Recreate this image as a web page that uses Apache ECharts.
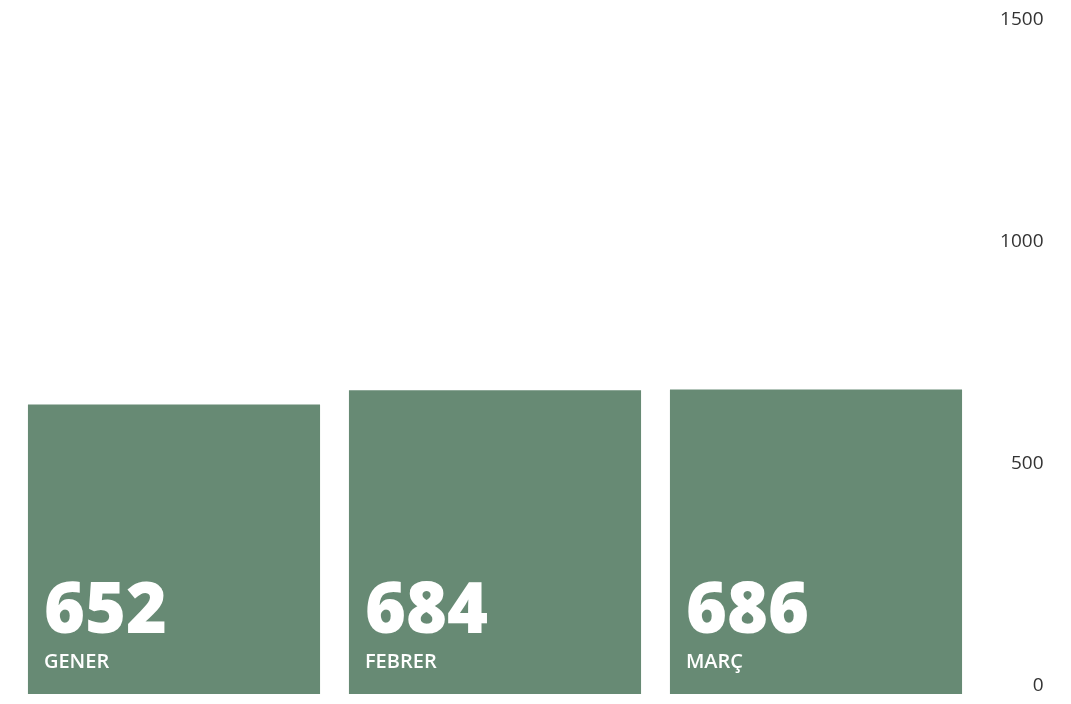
<!DOCTYPE html>
<html><head><meta charset="utf-8">
<script src="https://cdn.jsdelivr.net/npm/echarts@6/dist/echarts.min.js"></script>
<style>html,body{margin:0;padding:0;background:#fff}#c{width:1071px;height:704px}</style>
</head><body><div id="c"></div>
<script>
const categories = ['GENER', 'FEBRER', 'MARÇ'];
const values = [652, 684, 686];
const yTicks = [0, 500, 1000, 1500];

const chart = echarts.init(document.getElementById('c'));
chart.setOption({
  animation: false,
  textStyle: { fontFamily: 'Open Sans' },
  grid: { left: 13.5, right: 94.5, top: 28, bottom: 10, containLabel: false },
  xAxis: {
    type: 'category', data: categories,
    axisLine: { show: false }, axisTick: { show: false }, axisLabel: { show: false }
  },
  yAxis: {
    type: 'value', position: 'right', min: yTicks[0], max: yTicks[yTicks.length - 1], interval: 500,
    splitLine: { show: false }, axisLine: { show: false }, axisTick: { show: false },
    axisLabel: { align: 'right', margin: 67, verticalAlign: 'bottom', lineHeight: 17,
      formatter: v => String(v),
      color: '#333', fontSize: 19, fontFamily: 'Open Sans' }
  },
  series: [{
    type: 'bar', data: values, barCategoryGap: '9%',
    itemStyle: { color: '#678a74' },
    label: {
      show: true, position: 'insideBottomLeft', distance: 16, offset: [0, -3],
      formatter: p => '{v|' + p.value + '}\n{n|' + p.name + '}',
      rich: {
        v: { color: '#fff', fontSize: 70, fontWeight: 800, fontFamily: 'Open Sans', lineHeight: 72 },
        n: { color: '#fff', fontSize: 20, fontWeight: 600, fontFamily: 'Open Sans', lineHeight: 26 }
      }
    }
  }]
});
</script></body></html>
